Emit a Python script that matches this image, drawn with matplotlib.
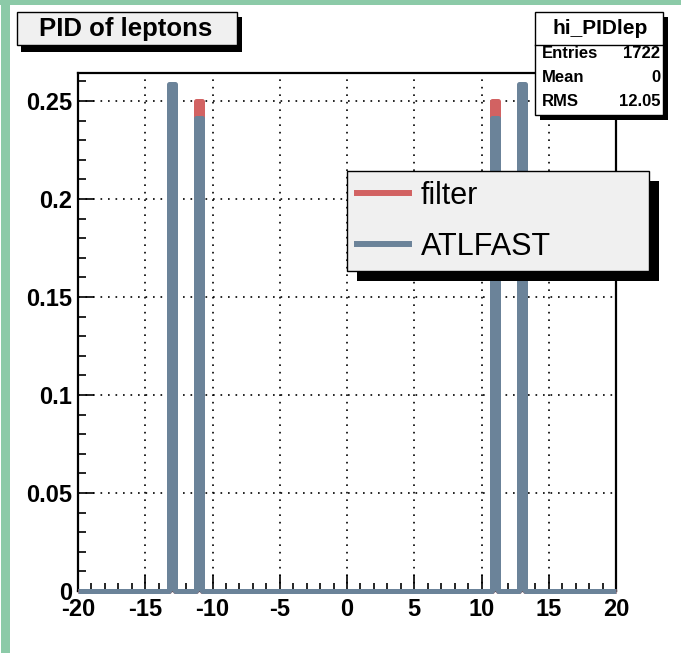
import numpy as np
import matplotlib.pyplot as plt
from matplotlib.patches import Rectangle
from matplotlib.lines import Line2D

plt.rcParams['font.family'] = ['Liberation Sans', 'DejaVu Sans']
plt.rcParams['axes.unicode_minus'] = False

# PDG id of the leptons and the normalised fraction per id
pid = [-13, -11, 11, 13]
filter_frac = [0.25, 0.25, 0.25, 0.25]
atlfast_frac = [0.2585, 0.2415, 0.2415, 0.2585]
series_names = ["filter", "ATLFAST"]
stat_names = ["Entries", "Mean", "RMS"]
stat_values = ["1722", "0", "12.05"]
hist_name = "hi_PIDlep"
title = "PID of leptons"

RED = '#d26262'
BLUE = '#6b8399'
GREEN = '#8ccaa8'
W, H = 681, 653

edges = np.linspace(-20, 20, 101)
h_filter, _ = np.histogram(pid, bins=edges, weights=filter_frac)
h_atlfast, _ = np.histogram(pid, bins=edges, weights=atlfast_frac)

fig = plt.figure(figsize=(W / 100, H / 100), dpi=100)
ax = fig.add_axes([78 / W, 1 - 591 / H, (616 - 78) / W, (591 - 73) / H])

for vals, col in [(h_filter, RED), (h_atlfast, BLUE)]:
    ax.stairs(vals, edges, facecolor=col, edgecolor=col, fill=True, lw=3.6,
              zorder=3, clip_on=False, joinstyle='round', capstyle='butt',
              baseline=0)

ax.set_xlim(-20, 20)
ax.set_ylim(0, 0.2643)
ax.set_xticks(np.arange(-20, 21, 5))
ax.set_xticks(np.arange(-20, 21, 1), minor=True)
ax.set_yticks(np.arange(0, 0.26, 0.05))
ax.set_yticks(np.arange(0, 0.265, 0.01), minor=True)
ax.set_yticklabels(['0', '0.05', '0.1', '0.15', '0.2', '0.25'])
ax.tick_params(which='both', direction='in', width=1.2, labelsize=17)
ax.tick_params(which='major', length=11.5)
ax.tick_params(which='minor', length=5.8)
ax.tick_params(axis='y', pad=4.3)
ax.tick_params(axis='x', pad=5)
for lab in ax.get_xticklabels() + ax.get_yticklabels():
    lab.set_fontweight('bold')
ax.set_axisbelow(True)
ax.grid(True, which='major', color='black', lw=1.2, linestyle=(0, (1, 3.5)))
for sp in ax.spines.values():
    sp.set_linewidth(1.6)

handles = [Line2D([], [], color=RED, lw=4.3), Line2D([], [], color=BLUE, lw=4.3)]
leg = ax.legend(handles, series_names, loc='upper left',
                bbox_to_anchor=(347 / W, 1 - 171 / H, 302 / W, 0),
                bbox_transform=fig.transFigure, mode='expand', fontsize=22,
                fancybox=False, edgecolor='black', facecolor='#f0f0f0',
                framealpha=1, borderpad=0.32, labelspacing=0.68,
                handlelength=1.7, handletextpad=0.4, borderaxespad=0)
leg.get_frame().set_linewidth(1.0)

fig.canvas.draw()
bb = leg.get_window_extent().transformed(fig.transFigure.inverted())
ax.add_patch(Rectangle((bb.x0 + 10 / W, bb.y0 - 10 / H), bb.width, bb.height,
                       transform=fig.transFigure, facecolor='black',
                       edgecolor='none', zorder=leg.get_zorder() - 0.1,
                       clip_on=False))

# overlay in pixel coordinates: border, title box, stats box
ov = fig.add_axes([0, 0, 1, 1], zorder=10)
ov.set_xlim(0, W)
ov.set_ylim(H, 0)
ov.axis('off')
ov.patch.set_alpha(0)

ov.add_patch(Rectangle((1, 0), 9, H, facecolor=GREEN, edgecolor='none'))
ov.add_patch(Rectangle((0, 0), W, 5, facecolor=GREEN, edgecolor='none'))

ov.add_patch(Rectangle((21, 17), 221, 35, facecolor='black', edgecolor='none'))
ov.add_patch(Rectangle((17, 12), 220, 33, facecolor='#f0f0f0',
                       edgecolor='black', lw=1.0))
ov.text(126, 29, title, ha='center', va='center', fontsize=18.5,
        fontweight='bold')

ov.add_patch(Rectangle((540, 17), 128, 103, facecolor='black', edgecolor='none'))
ov.add_patch(Rectangle((535, 12), 128, 103, facecolor='white',
                       edgecolor='black', lw=1.0))
ov.plot([535, 663], [45, 45], color='black', lw=1.0)
ov.text(600, 29, hist_name, ha='center', va='center', fontsize=15,
        fontweight='bold')
for name, val, y in zip(stat_names, stat_values, [54, 78, 101]):
    ov.text(542, y, name, ha='left', va='center', fontsize=12,
            fontweight='bold')
    ov.text(660, y, val, ha='right', va='center', fontsize=12,
            fontweight='bold')

fig.savefig('out.png', dpi=100)
